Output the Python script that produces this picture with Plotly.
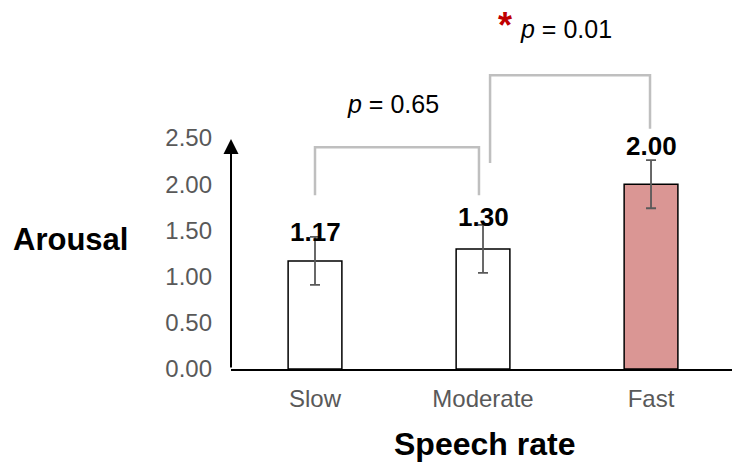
import plotly.graph_objects as go

categories = ["Slow", "Moderate", "Fast"]
means = [1.17, 1.30, 2.00]
errors = [0.26, 0.26, 0.26]
label_texts = ["1.17", "1.30", "2.00"]
bar_colors = ["#FFFFFF", "#FFFFFF", "#DA9694"]
ytick_vals = [0, 0.5, 1.0, 1.5, 2.0, 2.5]
ytick_text = ["0.00", "0.50", "1.00", "1.50", "2.00", "2.50"]
label_offsets = [0.31, 0.345, 0.41]

FONT = "Liberation Sans, Arial, sans-serif"
xpos = list(range(len(categories)))

fig = go.Figure()
fig.add_trace(go.Bar(
    x=xpos, y=means, width=0.32,
    marker=dict(color=bar_colors, line=dict(color="black", width=1.5)),
    error_y=dict(type="data", array=errors, visible=True, color="#595959",
                 thickness=1.8, width=5),
    showlegend=False,
))

annotations = []
for i, (m, t, off) in enumerate(zip(means, label_texts, label_offsets)):
    annotations.append(dict(x=i, y=m + off, text=f"<b>{t}</b>", showarrow=False,
                            xref="x", yref="y",
                            font=dict(family=FONT, size=26, color="black")))

# y axis with arrow
annotations.append(dict(x=-0.5, y=2.49, ax=-0.5, ay=0, xref="x", yref="y",
                        axref="x", ayref="y", showarrow=True, arrowhead=2,
                        arrowsize=1.5, arrowwidth=2, arrowcolor="black",
                        standoff=0, startstandoff=0, text=""))

annotations += [
    dict(x=0.467, y=2.87, xref="x", yref="y", showarrow=False,
         text="<i>p</i> = 0.65", font=dict(family=FONT, size=25, color="black")),
    dict(x=1.494, y=3.68, xref="x", yref="y", showarrow=False,
         text="<i>p</i> = 0.01", font=dict(family=FONT, size=25, color="black")),
    dict(x=1.13, y=3.72, xref="x", yref="y", showarrow=False,
         text="<b>*</b>", font=dict(family=FONT, size=36, color="#C00000")),
    dict(x=-0.321, y=0.3496, xref="paper", yref="paper", showarrow=False,
         xanchor="center", yanchor="middle",
         text="<b>Arousal</b>", font=dict(family=FONT, size=31, color="black")),
    dict(x=0.505, y=-0.203, xref="paper", yref="paper", showarrow=False,
         xanchor="center", yanchor="middle",
         text="<b>Speech rate</b>", font=dict(family=FONT, size=32, color="black")),
]

bracket_style = dict(color="#BFBFBF", width=2.5)
shapes = [
    dict(type="path", xref="x", yref="y",
         path="M 0,1.88 L 0,2.40 L 0.976,2.40 L 0.976,1.88", line=bracket_style),
    dict(type="path", xref="x", yref="y",
         path="M 1.042,2.23 L 1.042,3.18 L 1.994,3.18 L 1.994,2.60", line=bracket_style),
]

fig.update_layout(
    width=732, height=462,
    margin=dict(l=231, r=0, t=0, b=93),
    plot_bgcolor="white", paper_bgcolor="white",
    font=dict(family=FONT),
    annotations=annotations, shapes=shapes,
    xaxis=dict(range=[-0.5, 2.482], tickvals=xpos, ticktext=categories,
               showline=True, linecolor="black", linewidth=2, showgrid=False,
               zeroline=False, ticks="", ticklabelstandoff=7,
               tickfont=dict(family=FONT, size=24, color="#595959")),
    yaxis=dict(range=[0, 3.994], tickvals=ytick_vals, ticktext=ytick_text,
               showline=False, showgrid=False, zeroline=False, ticks="",
               ticklabelstandoff=18,
               tickfont=dict(family=FONT, size=24, color="#595959")),
)

fig.write_html("out.html")
